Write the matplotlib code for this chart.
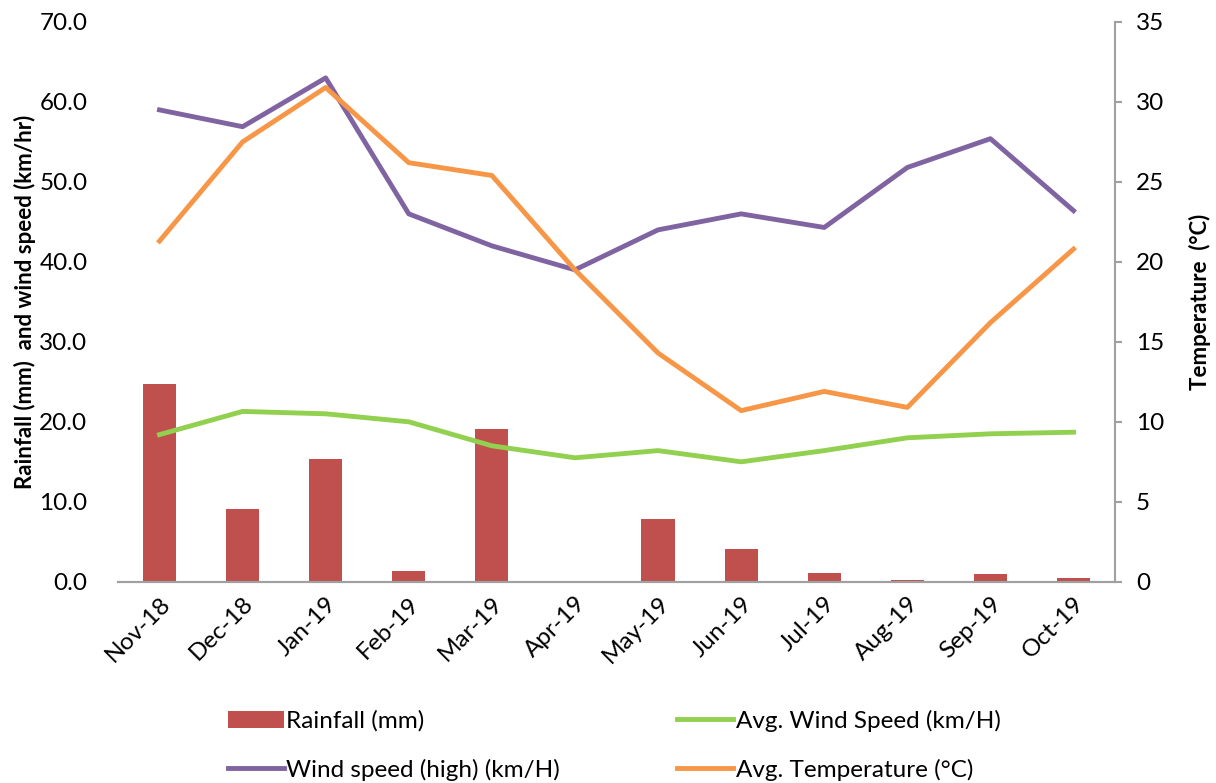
import matplotlib
matplotlib.use("Agg")
import matplotlib.pyplot as plt
import numpy as np

months = ["Nov-18", "Dec-18", "Jan-19", "Feb-19", "Mar-19", "Apr-19",
          "May-19", "Jun-19", "Jul-19", "Aug-19", "Sep-19", "Oct-19"]
rainfall = [24.7, 9.1, 15.3, 1.4, 19.1, 0.0, 7.8, 4.1, 1.1, 0.2, 1.0, 0.5]
wind_high = [59.0, 56.9, 63.0, 46.0, 42.0, 39.0, 44.0, 46.0, 44.3, 51.8, 55.4, 46.4]
wind_avg = [18.4, 21.3, 21.0, 20.0, 17.0, 15.5, 16.4, 15.0, 16.4, 18.0, 18.5, 18.7]
temp_avg = [21.3, 27.5, 30.9, 26.2, 25.4, 19.5, 14.3, 10.7, 11.9, 10.9, 16.2, 20.8]

plt.rcParams["font.family"] = ["Lato", "DejaVu Sans"]

x = np.arange(len(months))

fig = plt.figure(figsize=(12.16, 7.83), dpi=100)
ax = fig.add_axes([0.097, 0.257, 0.820, 0.715])
ax2 = ax.twinx()

bars = ax.bar(x, rainfall, width=0.4, color="#C0504D", label="Rainfall (mm)", zorder=2)
l_high, = ax.plot(x, wind_high, color="#8064A2", lw=3.5, label="Wind speed (high) (km/H)", zorder=3)
l_avg, = ax.plot(x, wind_avg, color="#92D050", lw=3.5, label="Avg. Wind Speed (km/H)", zorder=3)
l_temp, = ax2.plot(x, temp_avg, color="#F79646", lw=3.5, label="Avg. Temperature (°C)", zorder=3)

ax.set_xlim(-0.5, 11.5)
ax.set_ylim(0, 70)
ax2.set_ylim(0, 35)
ax.set_yticks(np.arange(0, 71, 10))
ax.set_yticklabels([f"{v:.1f}" for v in np.arange(0, 71, 10)])
ax2.set_yticks(np.arange(0, 36, 5))

ax.set_xticks(x)
ax.set_xticklabels(months, rotation=45, ha="right", rotation_mode="anchor")

for a in (ax, ax2):
    for s in ("top", "left", "right"):
        a.spines[s].set_visible(False)
    a.spines["bottom"].set_color("#A0A0A0")
    a.spines["bottom"].set_linewidth(1.5)
ax2.spines["right"].set_visible(True)
ax2.spines["right"].set_color("#A0A0A0")
ax2.spines["right"].set_linewidth(1.5)

ax.tick_params(axis="y", length=0, labelsize=17.5, pad=22)
ax.tick_params(axis="x", length=0, labelsize=17.5, pad=8)
ax2.tick_params(axis="y", length=5, width=1.5, color="#A0A0A0", labelsize=17.5, pad=10)

ax.set_ylabel("Rainfall (mm)  and wind speed (km/hr)", fontsize=16, fontweight="bold", labelpad=2)
ax2.set_ylabel("Temperature  (°C)", fontsize=16, fontweight="bold", labelpad=18)

fig.legend(handles=[bars, l_high, l_avg, l_temp], ncol=2, loc="lower center",
           bbox_to_anchor=(0.505, -0.025), frameon=False, fontsize=17.5,
           columnspacing=4.8, handlelength=2.3, handletextpad=0.12, labelspacing=1.1)

fig.savefig("out.png", dpi=100)
